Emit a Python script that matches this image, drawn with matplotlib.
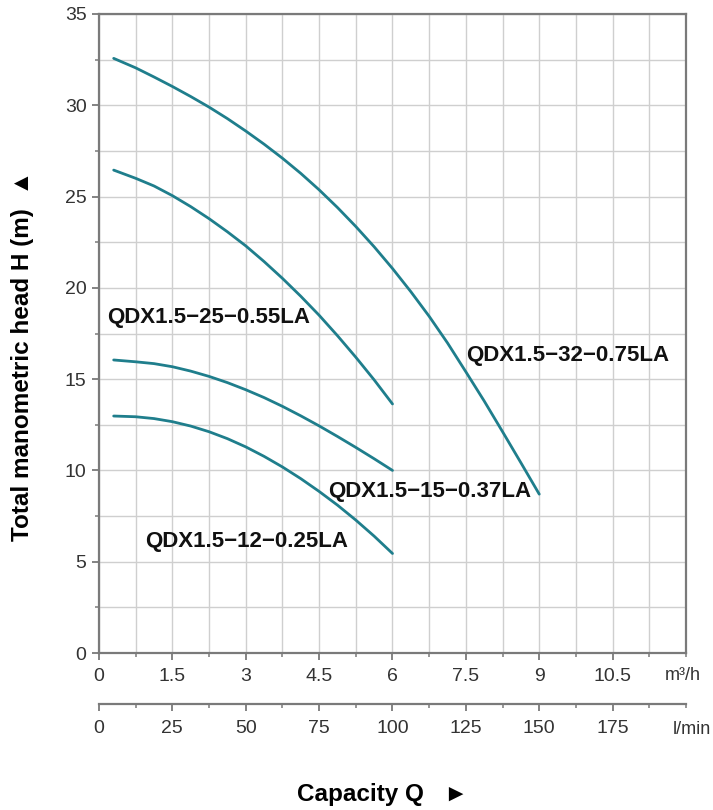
import matplotlib
matplotlib.use("Agg")
import matplotlib.pyplot as plt
from matplotlib.ticker import MultipleLocator

plt.rcParams.update({
    "font.family": ["Liberation Sans", "DejaVu Sans"],
    "font.size": 12,
})

# curves (Q in m3/h, H in m)
q_32 = [0.3, 0.75, 1.125, 1.5, 1.875, 2.25, 2.625, 3.0, 3.375, 3.75, 4.125, 4.5,
        4.875, 5.25, 5.625, 6.0, 6.375, 6.75, 7.125, 7.5, 7.875, 8.25, 8.625, 9.0]
h_32 = [32.57, 32.05, 31.55, 31.03, 30.48, 29.9, 29.27, 28.59, 27.87, 27.1, 26.27, 25.37,
        24.4, 23.36, 22.25, 21.06, 19.79, 18.44, 16.98, 15.4, 13.8, 12.12, 10.42, 8.7]

q_25 = [0.3, 0.75, 1.125, 1.5, 1.875, 2.25, 2.625, 3.0, 3.375, 3.75, 4.125, 4.5,
        4.875, 5.25, 5.625, 6.0]
h_25 = [26.45, 26.0, 25.58, 25.05, 24.45, 23.79, 23.07, 22.3, 21.44, 20.52, 19.54, 18.5,
        17.38, 16.2, 14.96, 13.64]

q_15 = [0.3, 0.75, 1.125, 1.5, 1.875, 2.25, 2.625, 3.0, 3.375, 3.75, 4.125, 4.5,
        4.875, 5.25, 5.625, 6.0]
h_15 = [16.05, 15.95, 15.85, 15.68, 15.44, 15.15, 14.81, 14.42, 13.99, 13.51, 12.99, 12.44,
        11.86, 11.26, 10.64, 10.0]

q_12 = [0.3, 0.75, 1.125, 1.5, 1.875, 2.25, 2.625, 3.0, 3.375, 3.75, 4.125, 4.5,
        4.875, 5.25, 5.625, 6.0]
h_12 = [12.98, 12.94, 12.84, 12.67, 12.43, 12.12, 11.74, 11.29, 10.77, 10.19, 9.55, 8.85,
        8.1, 7.28, 6.4, 5.45]

curves = [
    (q_32, h_32, "QDX1.5−32−0.75LA", 7.5, 16.3),
    (q_25, h_25, "QDX1.5−25−0.55LA", 0.17, 18.35),
    (q_15, h_15, "QDX1.5−15−0.37LA", 4.68, 8.87),
    (q_12, h_12, "QDX1.5−12−0.25LA", 0.95, 6.13),
]

m3h_ticks = [0, 1.5, 3, 4.5, 6, 7.5, 9, 10.5]
m3h_labels = ["0", "1.5", "3", "4.5", "6", "7.5", "9", "10.5"]
lmin_ticks = [0, 25, 50, 75, 100, 125, 150, 175]

line_col = "#1f7e8c"
grid_col = "#cfcfcf"
spine_col = "#7a7a7a"
tick_col = "#333333"

fig = plt.figure(figsize=(7.13, 8.10), dpi=100)
ax = fig.add_axes([99 / 713, 1 - 653 / 810, 587 / 713, 639 / 810])

for q, h, name, tx, ty in curves:
    ax.plot(q, h, color=line_col, linewidth=2.0, solid_capstyle="round",
            solid_joinstyle="round", zorder=3)
    ax.text(tx, ty, name, fontsize=16, fontweight="bold", color="#111111",
            va="center", ha="left", zorder=4)

ax.set_xlim(0, 12)
ax.set_ylim(0, 35)
ax.xaxis.set_minor_locator(MultipleLocator(0.75))
ax.yaxis.set_major_locator(MultipleLocator(5))
ax.yaxis.set_minor_locator(MultipleLocator(2.5))
ax.set_xticks(m3h_ticks)
ax.set_xticklabels(m3h_labels)
ax.grid(True, which="both", color=grid_col, linewidth=1.0, zorder=0)
ax.set_axisbelow(True)

for s in ax.spines.values():
    s.set_color(spine_col)
    s.set_linewidth(1.6)
ax.tick_params(which="major", length=5, width=1.3, color=spine_col,
               labelsize=14, labelcolor=tick_col, pad=4)
ax.tick_params(which="minor", length=3, width=1.1, color=spine_col)
ax.tick_params(axis="x", which="major", pad=6)

# second flow scale in l/min
ax2 = ax.twiny()
ax2.set_xlim(0, 200)
ax2.xaxis.set_ticks_position("bottom")
ax2.xaxis.set_label_position("bottom")
ax2.spines["bottom"].set_position(("outward", 37))
for k in ["top", "left", "right"]:
    ax2.spines[k].set_visible(False)
ax2.spines["bottom"].set_color(spine_col)
ax2.spines["bottom"].set_linewidth(1.6)
ax2.xaxis.set_minor_locator(MultipleLocator(12.5))
ax2.set_xticks(lmin_ticks)
ax2.tick_params(which="major", length=5, width=1.3, color=spine_col,
                labelsize=14, labelcolor=tick_col, pad=6)
ax2.tick_params(which="minor", length=3, width=1.1, color=spine_col)

fig.text(683 / 713, 1 - 676 / 810, "m³/h", fontsize=13, color=tick_col,
         ha="center", va="center")
fig.text(711 / 713, 1 - 730 / 810, "l/min", fontsize=13, color=tick_col,
         ha="right", va="center")

fig.text(23 / 713, 1 - 356 / 810, "Total manometric head H (m)  ▲", fontsize=17.5,
         fontweight="bold", rotation=90, ha="center", va="center",
         family=["Liberation Sans", "DejaVu Sans"])
fig.text(383 / 713, 1 - 795 / 810, "Capacity Q   ►", fontsize=17.5,
         fontweight="bold", ha="center", va="center",
         family=["Liberation Sans", "DejaVu Sans"])

fig.savefig("out.png", dpi=100)
